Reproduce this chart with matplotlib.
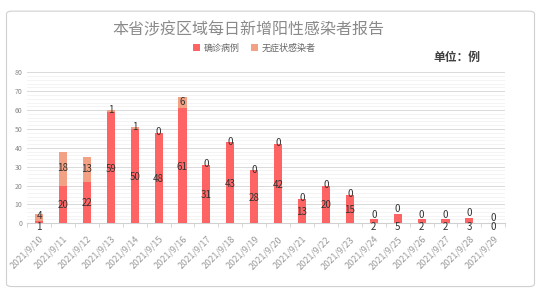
import numpy as np
import matplotlib.pyplot as plt
from matplotlib.patches import FancyBboxPatch

plt.rcParams['font.family'] = ['Noto Sans CJK SC', 'DejaVu Sans']

dates = ['2021/9/%d' % d for d in range(10, 30)]
confirmed = [1, 20, 22, 59, 50, 48, 61, 31, 43, 28, 42, 13, 20, 15, 2, 5, 2, 2, 3, 0]
asymptomatic = [4, 18, 13, 1, 1, 0, 6, 0, 0, 0, 0, 0, 0, 0, 0, 0, 0, 0, 0, 0]

C1 = '#FF6464'
C2 = '#F2A184'

fig = plt.figure(figsize=(5.41, 2.93), dpi=100)
card = FancyBboxPatch((0.012, 0.022), 0.976, 0.94, boxstyle='round,pad=0,rounding_size=0.01',
                      transform=fig.transFigure, facecolor='white', edgecolor='#d0d0d0', lw=0.8, zorder=-10)
fig.patches.append(card)

ax = fig.add_axes([0.05, 0.238, 0.884, 0.515])
ax.patch.set_alpha(0)
x = np.arange(len(dates))
w = 0.34
ax.bar(x, confirmed, w, color=C1, label='确诊病例', zorder=3)
ax.bar(x, asymptomatic, w, bottom=confirmed, color=C2, label='无症状感染者', zorder=3)

for i in x:
    c, a = confirmed[i], asymptomatic[i]
    if c + a < 8:
        yc, ya = -2.2, c + 2.6
    else:
        yc, ya = c / 2 - 0.5, c + a / 2 + 0.3
    ax.text(i, yc, str(c), ha='center', va='center', fontsize=7, color='#333333', zorder=4, clip_on=False)
    ax.text(i, ya, str(a), ha='center', va='center', fontsize=7, color='#333333', zorder=4)

ax.set_xlim(-0.5, len(dates) - 0.5)
ax.set_ylim(0, 80)
ax.set_yticks(range(0, 81, 10))
ax.set_yticks(range(0, 81, 2), minor=True)
ax.grid(axis='y', which='major', color='#d9d9d9', lw=0.7, zorder=0)
ax.grid(axis='y', which='minor', color='#f0f0f0', lw=0.5, zorder=0)
ax.tick_params(axis='y', which='both', length=0, labelsize=5, labelcolor='#888888')
ax.set_xticks(x)
ax.set_xticklabels(dates, rotation=45, ha='right', rotation_mode='anchor', fontsize=6.5, color='#999999')
ax.set_xticks(np.arange(-0.5, len(dates), 1), minor=True)
ax.tick_params(axis='x', which='major', length=0, pad=8)
ax.tick_params(axis='x', which='minor', length=3, color='#d0d0d0')
for s in ['top', 'right', 'left']:
    ax.spines[s].set_visible(False)
ax.spines['bottom'].set_color('#d0d0d0')

fig.text(0.46, 0.9, '本省涉疫区域每日新增阳性感染者报告', ha='center', va='center', fontsize=11.5, color='#8a8a8a')
fig.legend(loc='center', bbox_to_anchor=(0.47, 0.835), ncol=2, frameon=False, fontsize=6.5,
           handlelength=0.8, handleheight=0.8, columnspacing=1.2, handletextpad=0.4, labelcolor='#666666')
fig.text(0.845, 0.805, '单位：例', ha='center', va='center', fontsize=8.5, color='#404040', fontweight='bold')

fig.savefig('out.png', dpi=100)
